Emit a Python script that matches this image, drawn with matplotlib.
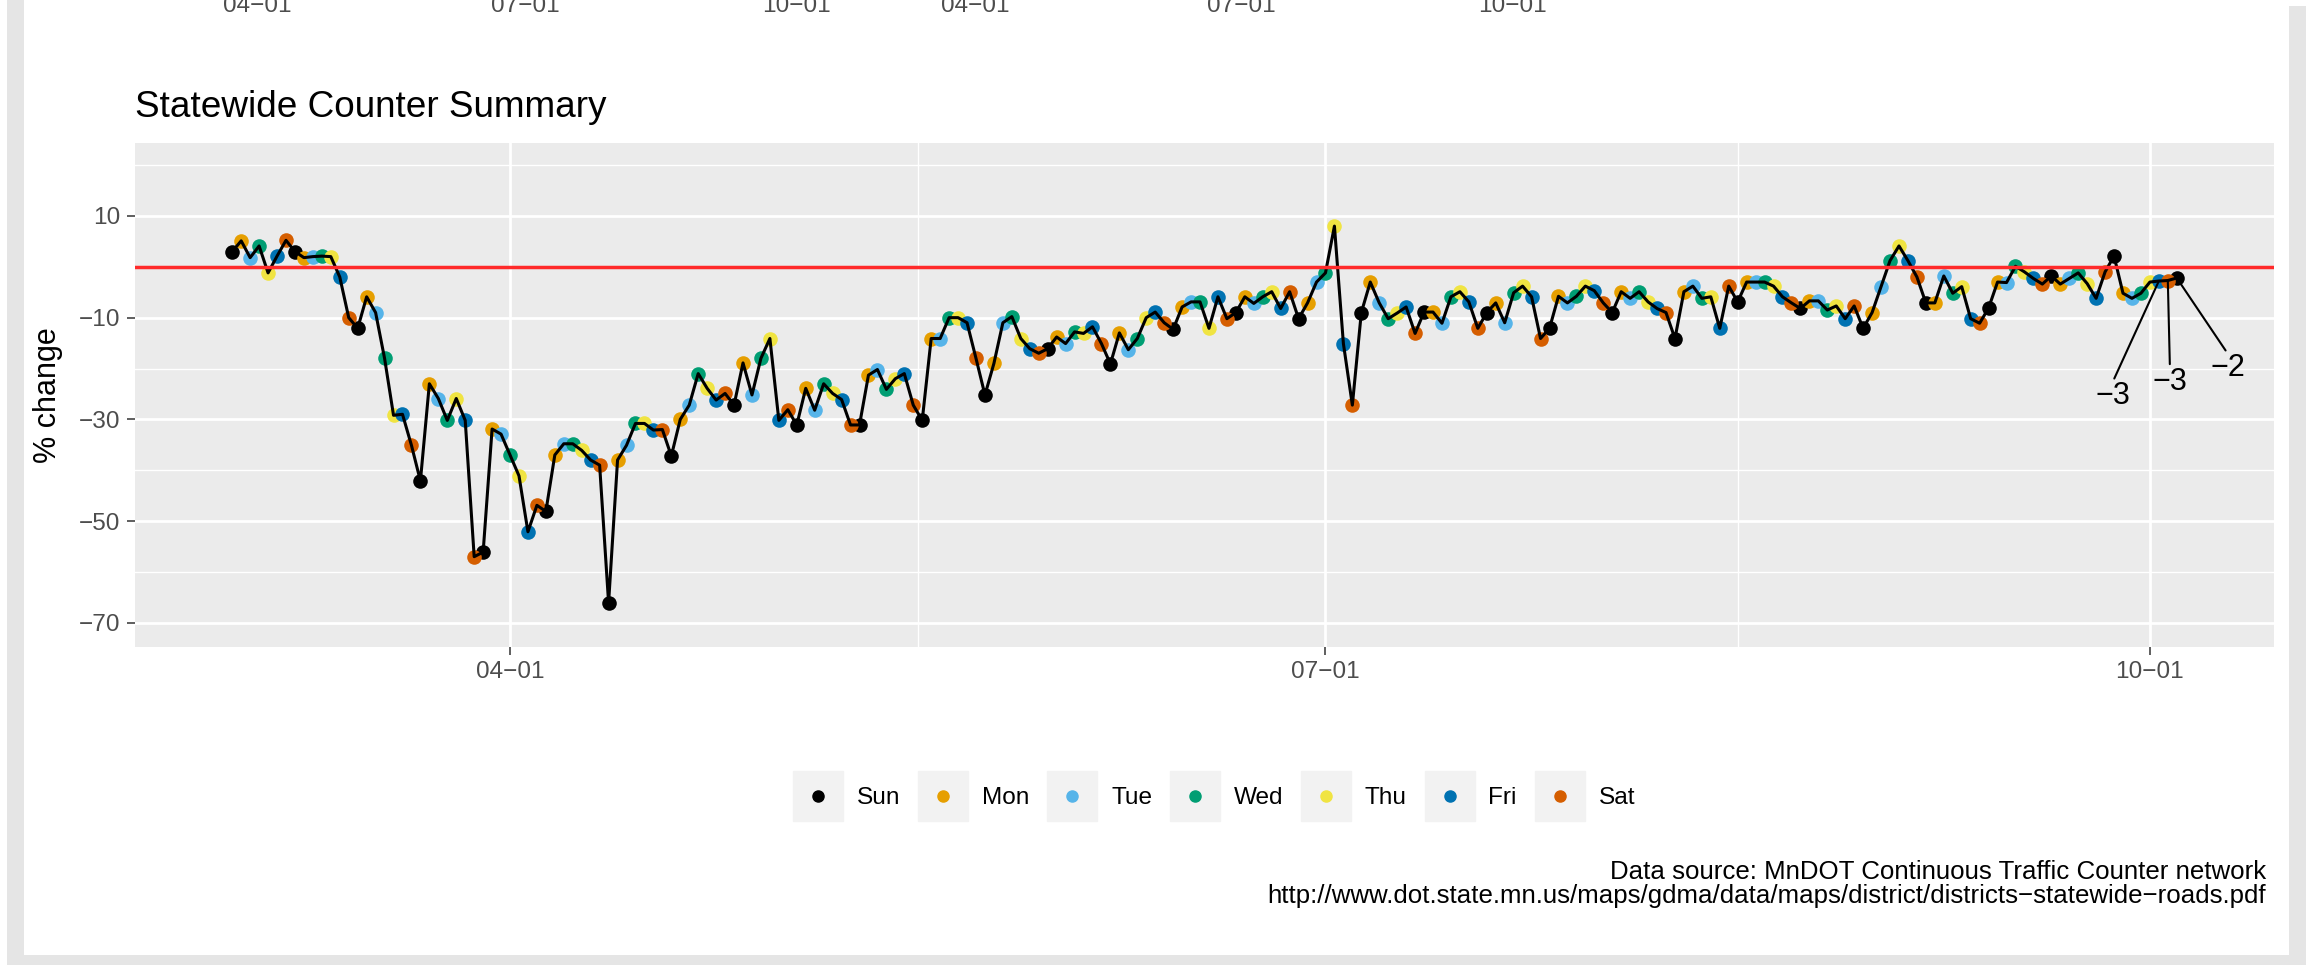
import matplotlib

matplotlib.use("Agg")
import matplotlib.dates as mdates
import matplotlib.pyplot as plt
import numpy as np
import pandas as pd
from matplotlib.legend_handler import HandlerTuple
from matplotlib.lines import Line2D
from matplotlib.patches import Rectangle
from matplotlib.ticker import FixedLocator, FuncFormatter

plt.rcParams["font.family"] = ["Liberation Sans", "DejaVu Sans"]

# daily % change vs. normal, starting Sunday 2020-03-01
START_DATE = "2020-03-01"
PCT_CHANGE = [
    3.0, 5.1, 1.8, 4.1, -1.2, 2.1, 5.2,
    3.0, 1.8, 2.0, 2.1, 2.0, -2.0, -10.0,
    -12.1, -5.9, -9.0, -18.0, -29.2, -29.0, -35.1,
    -42.1, -23.0, -25.9, -30.2, -25.9, -30.2, -57.0,
    -56.1, -31.9, -32.9, -37.0, -41.1, -52.1, -46.9,
    -48.1, -37.0, -34.8, -34.8, -36.1, -38.0, -39.0,
    -66.1, -38.0, -35.1, -30.8, -30.8, -32.1, -32.0,
    -37.2, -30.0, -27.2, -21.0, -23.9, -26.2, -24.9,
    -27.2, -18.9, -25.2, -18.0, -14.1, -30.2, -28.1,
    -31.1, -23.9, -28.2, -23.0, -24.9, -26.1, -31.1,
    -31.1, -21.3, -20.2, -24.1, -22.0, -21.0, -27.2,
    -30.2, -14.1, -14.1, -10.0, -10.0, -11.0, -18.0,
    -25.2, -19.0, -11.0, -9.8, -14.1, -16.1, -17.0,
    -16.1, -13.8, -15.1, -12.8, -13.1, -11.8, -15.1,
    -19.1, -13.0, -16.3, -14.1, -10.0, -8.9, -11.0,
    -12.3, -7.9, -6.9, -6.9, -12.1, -5.9, -10.2,
    -9.0, -5.9, -7.2, -5.9, -4.9, -8.2, -4.9,
    -10.2, -7.1, -3.0, -1.2, 8.0, -15.1, -27.2,
    -9.0, -3.0, -7.1, -10.2, -9.1, -7.9, -13.1,
    -8.9, -8.9, -11.1, -5.9, -4.9, -6.9, -12.1,
    -9.0, -7.1, -11.0, -5.1, -3.8, -5.9, -14.1,
    -12.1, -5.8, -7.1, -5.8, -3.8, -4.7, -7.1,
    -9.0, -4.9, -6.2, -4.9, -6.9, -8.2, -9.0,
    -14.1, -4.9, -3.8, -6.2, -5.9, -12.1, -3.8,
    -6.9, -3.0, -3.0, -3.0, -3.8, -5.9, -7.1,
    -8.2, -6.7, -6.7, -8.5, -7.7, -10.2, -7.7,
    -12.1, -9.0, -3.9, 1.2, 4.1, 1.2, -2.0,
    -7.1, -7.1, -1.8, -5.2, -3.9, -10.2, -11.1,
    -8.1, -3.0, -3.1, 0.1, -1.0, -2.3, -3.4,
    -1.8, -3.4, -2.3, -1.2, -3.3, -6.2, -1.0,
    2.1, -5.2, -6.2, -5.2, -3.0, -2.8, -2.7,
    -2.2,
]
DAY_NAMES = ["Sun", "Mon", "Tue", "Wed", "Thu", "Fri", "Sat"]
DAY_COLORS = ["#000000", "#E69F00", "#56B4E9", "#009E73", "#F0E442", "#0072B2", "#D55E00"]
X_BREAKS = ["2020-04-01", "2020-07-01", "2020-10-01"]
Y_BREAKS = [10, -10, -30, -50, -70]
Y_MINOR = [20, 0, -20, -40, -60]
N_LABELLED = 3
LABEL_OFFSETS = [(-33, -83), (1.5, -73), (36.5, -65)]

TITLE = "Statewide Counter Summary"
Y_TITLE = "% change"
CAPTION = [
    "Data source: MnDOT Continuous Traffic Counter network",
    "http://www.dot.state.mn.us/maps/gdma/data/maps/district/districts\u2212statewide\u2212roads.pdf",
]
# tick labels of the previous chart, cut off at the top edge
TOP_STRIP_LABELS = ["04\u221201", "07\u221201", "10\u221201", "04\u221201", "07\u221201", "10\u221201"]
TOP_STRIP_X = [257, 525, 797, 975, 1241, 1513]

W, H = 2321, 965
TEXT_GRAY = "#4D4D4D"
SMALL = 17.6

dates = pd.date_range(START_DATE, periods=len(PCT_CHANGE), freq="D")
values = np.array(PCT_CHANGE)
weekday = (dates.dayofweek.values + 1) % 7  # Sunday = 0

fig = plt.figure(figsize=(W / 100, H / 100), dpi=100)
fig.patch.set_facecolor("white")

# grey page frame around the card
for x0, y0, x1, y1 in [(7, 0, 24, 965), (2289, 6, 2306, 965), (7, 955, 2306, 965)]:
    fig.patches.append(Rectangle((x0 / W, 1 - y1 / H), (x1 - x0) / W, (y1 - y0) / H,
                                 transform=fig.transFigure, color="#E5E5E5", lw=0, zorder=0))

ax = fig.add_axes([135 / W, 1 - 646.7 / H, (2274 - 135) / W, (646.7 - 142.7) / H])
ax.set_facecolor("#EBEBEB")
for s in ax.spines.values():
    s.set_visible(False)

for i, (name, col) in enumerate(zip(DAY_NAMES, DAY_COLORS)):
    m = weekday == i
    ax.scatter(dates[m], values[m], s=110, color=col, lw=0, zorder=2)
ax.plot(dates, values, color="black", lw=2.2, zorder=3)
ax.axhline(0, color="#FF2A2A", lw=2.5, zorder=4)

for d, v, off in zip(dates[-N_LABELLED:], values[-N_LABELLED:], LABEL_OFFSETS):
    ax.annotate(str(int(round(v))).replace("-", "\u2212"), xy=(d, v), xytext=off,
                textcoords="offset points", ha="center", va="center", fontsize=22, zorder=5,
                arrowprops=dict(arrowstyle="-", color="black", lw=1.5, relpos=(0.5, 1.0),
                                shrinkA=0, shrinkB=0))

# ggplot style 5% expansion on x
span = dates[-1] - dates[0]
ax.set_xlim(dates[0] - span * 0.05, dates[-1] + span * 0.05)
ax.set_ylim(-74.7, 24.4)

xb = mdates.date2num(pd.to_datetime(X_BREAKS))
ax.xaxis.set_major_locator(FixedLocator(xb))
ax.xaxis.set_minor_locator(FixedLocator((xb[:-1] + xb[1:]) / 2))
ax.xaxis.set_major_formatter(FuncFormatter(
    lambda x, p: mdates.num2date(x).strftime("%m-%d").replace("-", "\u2212")))
ax.yaxis.set_major_locator(FixedLocator(Y_BREAKS))
ax.yaxis.set_minor_locator(FixedLocator(Y_MINOR))
ax.yaxis.set_major_formatter(FuncFormatter(lambda y, p: f"{y:.0f}".replace("-", "\u2212")))

ax.grid(which="major", color="white", lw=1.95)
ax.grid(which="minor", color="white", lw=1.0)
ax.set_axisbelow(True)
ax.tick_params(which="major", length=5.5, width=1.1, color="#333333",
               labelsize=SMALL, labelcolor=TEXT_GRAY, pad=5)
ax.tick_params(which="minor", length=0)

fig.text(135 / W, 1 - 117 / H, TITLE, fontsize=26.6, ha="left", va="baseline")
fig.text(48 / W, 1 - 394.7 / H, Y_TITLE, fontsize=22, rotation=90, ha="center", va="center")
fig.text(2266 / W, 1 - 879 / H, CAPTION[0], fontsize=18.6, ha="right", va="baseline")
fig.text(2266 / W, 1 - 903 / H, CAPTION[1], fontsize=18.6, ha="right", va="baseline")
for lab, x in zip(TOP_STRIP_LABELS, TOP_STRIP_X):
    fig.text(x / W, 1 - 12 / H, lab, fontsize=SMALL, color=TEXT_GRAY, ha="center", va="baseline")

handles = [
    (Line2D([], [], marker="s", markersize=36, color="#F2F2F2", linestyle="none"),
     Line2D([], [], marker="o", markersize=8, color=c, linestyle="none"))
    for c in DAY_COLORS
]
fig.legend(handles, DAY_NAMES, loc="center", bbox_to_anchor=(1214 / W, 1 - 798 / H),
           ncol=7, frameon=False, fontsize=SMALL, handlelength=2.04, handletextpad=0.57,
           columnspacing=0.73, handler_map={tuple: HandlerTuple(ndivide=1, pad=0)})

fig.savefig("out.png", dpi=100)
